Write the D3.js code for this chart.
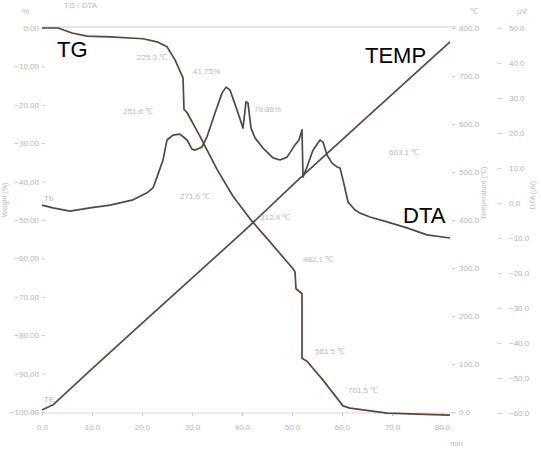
<!DOCTYPE html>
<html>
<head>
<meta charset="utf-8">
<script src="https://cdn.jsdelivr.net/npm/d3@7"></script>
<style>
  body { margin: 0; background: #fff; }
  svg { display: block; }
  .tick text { fill: #b4b4b4; font-family: "Liberation Sans", Arial, sans-serif; font-size: 8px; }
  .tick line { stroke: #c8c8c8; }
</style>
</head>
<body>
<script>
// values (time in min)
var tgTime = [0, 3.2, 6, 9, 13.6, 20.2, 23, 25, 26.6, 28.2, 28.4, 29, 31.6, 35, 38.2, 41.6, 45.6, 50.2, 50.6, 50.8, 52, 52, 53, 56.2, 60.2, 61.6, 69, 81.6],
    tgValues = [0, 0, -1.3, -2.1, -2.3, -2.8, -3.6, -4.9, -8.3, -13, -21.2, -22, -28.2, -36.8, -43.8, -49.7, -55.7, -62.7, -63.5, -67.9, -69.2, -86, -86.8, -91.7, -98.4, -99, -100.3, -100.8];

var dtaTime = [0, 2.2, 5.6, 9.6, 13.6, 18.2, 21, 22.2, 23, 24.2, 25, 26.2, 27.6, 29, 30, 30.6, 32, 33, 34.6, 36, 36.8, 37.6, 39, 40, 40.2, 40.8, 41.2, 41.8, 42.6, 44.2, 46.2, 47.6, 49, 50.6, 51.4, 52, 52.2, 53, 54.2, 55.6, 56.2, 57, 58, 59, 59.6, 60.2, 61.2, 62.6, 63.6, 65.6, 69, 73, 77, 81.6],
    dtaValues = [-0.6, -1.4, -2.3, -1.4, -0.6, 0.9, 2.9, 4.3, 7.4, 12.3, 18.0, 19.4, 19.7, 18.0, 15.4, 15.1, 16.0, 18.9, 25.7, 31.4, 33.1, 32.3, 26.6, 22.3, 21.4, 28.9, 28.6, 21.4, 18.6, 15.7, 12.9, 12.3, 13.1, 16.6, 18.0, 20.9, 7.4, 10.3, 15.1, 18.0, 17.4, 13.7, 11.4, 10.3, 10.0, 6.6, 0.3, -2.0, -2.9, -4.0, -5.4, -7.1, -9.1, -10.0];

var tempTime = [0, 2.2, 9.6, 19.6, 30, 40, 51.6, 65.6, 81.6],
    tempValues = [4, 15, 86, 181, 279, 373, 487, 620, 771];

var timeTicks = [0, 10, 20, 30, 40, 50, 60, 70, 80],
    tgTicks = [0, -10, -20, -30, -40, -50, -60, -70, -80, -90, -100],
    tempTicks = [0, 100, 200, 300, 400, 500, 600, 700, 800],
    dtaTicks = [50, 40, 30, 20, 10, 0, -10, -20, -30, -40, -50, -60];

// peak / step annotations, placed on the time / TG scales
var notes = [
  {t: 19.0, tg: -8.3, text: "225.3 \u2103"},
  {t: 30.2, tg: -12, text: "41.75%"},
  {t: 16.2, tg: -22.5, text: "251.6 \u2103"},
  {t: 42.4, tg: -22, text: "79.86%"},
  {t: 27.6, tg: -44.5, text: "271.6 \u2103"},
  {t: 43.6, tg: -50, text: "312.4 \u2103"},
  {t: 52.2, tg: -61, text: "482.1 \u2103"},
  {t: 54.6, tg: -85, text: "561.5 \u2103"},
  {t: 61.2, tg: -95, text: "701.5 \u2103"},
  {t: 69.4, tg: -33, text: "603.1 \u2103"},
  {t: 0.4, tg: -45, text: "Tb"},
  {t: 0.4, tg: -97.5, text: "TE"}
];

var W = 541, H = 450;
var svg = d3.select("body").append("svg")
            .attr("width", W)
            .attr("height", H);

var x = d3.scaleLinear().domain([0, 81.6]).range([42, 450]),
    yTG = d3.scaleLinear().domain([0, -100]).range([28, 412]),
    yTemp = d3.scaleLinear().domain([0, 800]).range([412, 28]),
    yDTA = d3.scaleLinear().domain([50, -60]).range([28, 413]);

// faint frame lines
svg.append("line").attr("x1", 42).attr("x2", 456).attr("y1", 27).attr("y2", 27)
   .attr("stroke", "#e4e4e4").attr("stroke-width", 2);
svg.append("line").attr("x1", 30).attr("x2", 456).attr("y1", 413).attr("y2", 413)
   .attr("stroke", "#ececec").attr("stroke-width", 2);

// axes
function styleAxis(g) {
  g.select(".domain").remove();
}
svg.append("g").attr("transform", "translate(45,0)")
   .call(d3.axisLeft(yTG).tickValues(tgTicks).tickSize(3).tickPadding(3)
           .tickFormat(function(d) { return d3.format(".2f")(d); }))
   .call(styleAxis);

svg.append("g").attr("transform", "translate(0,413)")
   .call(d3.axisBottom(x).tickValues(timeTicks).tickSize(3).tickPadding(8)
           .tickFormat(d3.format(".1f")))
   .call(styleAxis);

svg.append("g").attr("transform", "translate(452,0)")
   .call(d3.axisRight(yTemp).tickValues(tempTicks).tickSize(3).tickPadding(4)
           .tickFormat(d3.format(".1f")))
   .call(styleAxis);

svg.append("g").attr("transform", "translate(498,0)")
   .call(d3.axisRight(yDTA).tickValues(dtaTicks).tickSize(3).tickPadding(8)
           .tickFormat(d3.format(".1f")))
   .call(styleAxis);

// units and axis titles
var faint = "#b8b8b8";
function faintText(px, py, s, size) {
  return svg.append("text").attr("x", px).attr("y", py).text(s)
            .attr("fill", faint).attr("font-size", size || 8)
            .attr("font-family", "Liberation Sans, Arial, sans-serif");
}
faintText(22, 14, "%");
faintText(470, 14, "\u2103");
faintText(517, 14, "\u00b5V");
faintText(450, 446, "min");
faintText(64, 8, "TG / DTA", 8);

[{px: 7, py: 200, s: "Weight (%)"},
 {px: 486, py: 193, s: "Temperature (\u2103)"},
 {px: 535, py: 195, s: "DTA (\u00b5V)"}].forEach(function(d) {
  svg.append("text").attr("transform", "translate(" + d.px + "," + d.py + ") rotate(-90)")
     .attr("text-anchor", "middle").attr("fill", faint).attr("font-size", 7)
     .attr("font-family", "Liberation Sans, Arial, sans-serif").text(d.s);
});

// curves
function drawCurve(times, vals, yScale, color) {
  var pts = times.map(function(t, i) { return [t, vals[i]]; });
  svg.append("path")
     .datum(pts)
     .attr("fill", "none")
     .attr("stroke", color)
     .attr("stroke-width", 1.7)
     .attr("stroke-linejoin", "round")
     .attr("d", d3.line()
                  .x(function(d) { return x(d[0]); })
                  .y(function(d) { return yScale(d[1]); }));
}
drawCurve(tempTime, tempValues, yTemp, "#5a4843");
drawCurve(dtaTime, dtaValues, yDTA, "#4f4a48");
drawCurve(tgTime, tgValues, yTG, "#5e443c");

// annotations
notes.forEach(function(n) {
  faintText(x(n.t), yTG(n.tg), n.text, 8);
});

// series labels
[{t: 3.0, v: -7.6, axis: yTG, s: "TG"},
 {t: 64.6, v: 727, axis: yTemp, s: "TEMP"},
 {t: 72.2, v: -5.7, axis: yDTA, s: "DTA"}].forEach(function(d) {
  svg.append("text")
     .attr("x", x(d.t))
     .attr("y", d.axis(d.v))
     .attr("font-family", "Liberation Sans, Arial, sans-serif")
     .attr("font-size", 22)
     .attr("fill", "#000")
     .text(d.s);
});
</script>
</body>
</html>
